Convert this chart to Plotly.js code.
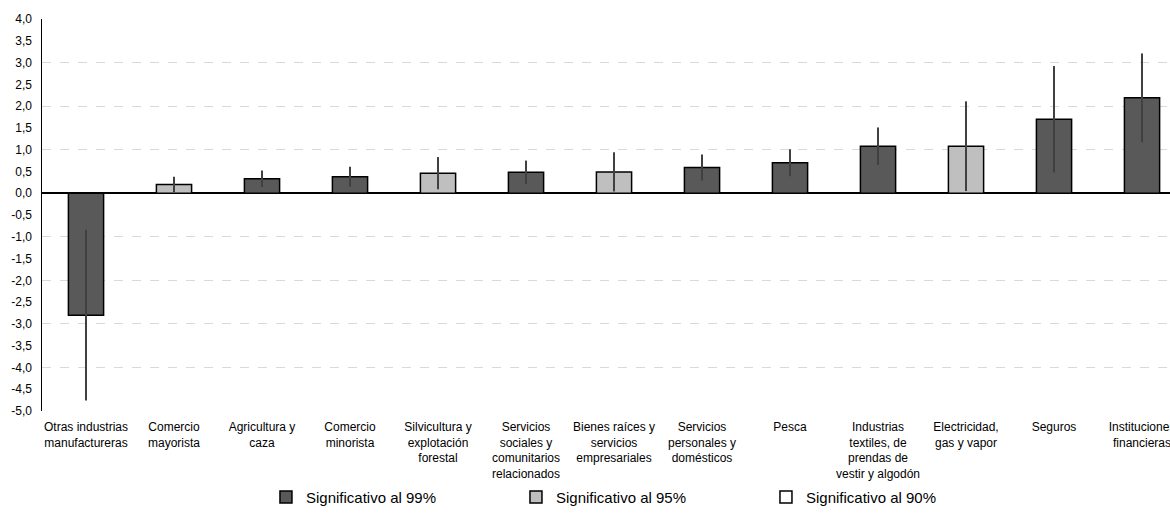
<!DOCTYPE html>
<html>
<head>
<meta charset="utf-8">
<script src="https://cdn.plot.ly/plotly-3.0.1.min.js"></script>
<style>html,body{margin:0;padding:0;background:#fff;}#chart{width:1170px;height:516px;}</style>
</head>
<body>
<div id="chart"></div>
<script>
const categories = [
  "Otras industrias<br>manufactureras",
  "Comercio<br>mayorista",
  "Agricultura y<br>caza",
  "Comercio<br>minorista",
  "Silvicultura y<br>explotación<br>forestal",
  "Servicios<br>sociales y<br>comunitarios<br>relacionados",
  "Bienes raíces y<br>servicios<br>empresariales",
  "Servicios<br>personales y<br>domésticos",
  "Pesca",
  "Industrias<br>textiles, de<br>prendas de<br>vestir y algodón",
  "Electricidad,<br>gas y vapor",
  "Seguros",
  "Instituciones<br>financieras"
];
const values = [-2.80, 0.20, 0.33, 0.38, 0.46, 0.48, 0.49, 0.59, 0.70, 1.08, 1.08, 1.70, 2.19];
const errors = [1.96, 0.18, 0.19, 0.23, 0.37, 0.27, 0.45, 0.30, 0.31, 0.43, 1.03, 1.22, 1.02];
const significance = ["99", "95", "99", "99", "95", "99", "95", "99", "99", "99", "95", "99", "99"];
const levels = ["99", "95", "90"];
const levelNames = ["Significativo al 99%", "Significativo al 95%", "Significativo al 90%"];
const levelColors = ["#595959", "#bfbfbf", "#ffffff"];
const yTickVals = [4, 3.5, 3, 2.5, 2, 1.5, 1, 0.5, 0, -0.5, -1, -1.5, -2, -2.5, -3, -3.5, -4, -4.5, -5];
const yTickText = ["4,0", "3,5", "3,0", "2,5", "2,0", "1,5", "1,0", "0,5", "0,0", "-0,5", "-1,0", "-1,5", "-2,0", "-2,5", "-3,0", "-3,5", "-4,0", "-4,5", "-5,0"];

const traces = levels.map((lv, i) => {
  const ys = categories.map((c, k) => significance[k] === lv ? values[k] : null);
  const es = categories.map((c, k) => significance[k] === lv ? errors[k] : null);
  return {
    type: "bar",
    name: levelNames[i],
    x: categories,
    y: ys,
    yaxis: i === 2 ? "y2" : "y",
    width: 0.4,
    marker: { color: levelColors[i], line: { color: "#000000", width: 1.5 } },
    error_y: { type: "data", array: es, visible: true, color: "#404040", thickness: 2, width: 0 },
    showlegend: true
  };
});

const layout = {
  width: 1170,
  height: 516,
  margin: { l: 42, r: 0, t: 19, b: 105 },
  paper_bgcolor: "#ffffff",
  plot_bgcolor: "#ffffff",
  barmode: "overlay",
  font: { family: "Liberation Sans, Arial, sans-serif", size: 12, color: "#000000" },
  xaxis: {
    type: "category",
    categoryorder: "array",
    categoryarray: categories,
    range: [-0.5, 12.318],
    showgrid: false,
    showline: false,
    zeroline: false,
    ticks: "",
    ticklabelstandoff: 7,
    tickfont: { size: 12, color: "#000000" },
    fixedrange: true
  },
  yaxis: {
    range: [-5, 4],
    tick0: 0,
    dtick: 1,
    showgrid: true,
    gridcolor: "#d9d9d9",
    griddash: "dash",
    gridwidth: 1,
    showticklabels: false,
    ticks: "",
    zeroline: true,
    zerolinecolor: "#000000",
    zerolinewidth: 1.5,
    showline: true,
    linecolor: "#000000",
    linewidth: 1.5,
    fixedrange: true
  },
  yaxis2: {
    overlaying: "y",
    side: "left",
    range: [-5, 4],
    tickmode: "array",
    tickvals: yTickVals,
    ticktext: yTickText,
    showgrid: false,
    zeroline: false,
    showline: false,
    ticks: "",
    ticklabelstandoff: 9,
    tickfont: { size: 12, color: "#000000" },
    fixedrange: true
  },
  legend: {
    orientation: "h",
    x: 0.531,
    xanchor: "center",
    y: -0.22,
    yanchor: "middle",
    font: { size: 15, color: "#000000" },
    traceorder: "normal",
    entrywidth: 205,
    entrywidthmode: "pixels",
    itemclick: false
  },
  showlegend: true
};

Plotly.newPlot("chart", traces, layout, { displayModeBar: false, staticPlot: true });
</script>
</body>
</html>
